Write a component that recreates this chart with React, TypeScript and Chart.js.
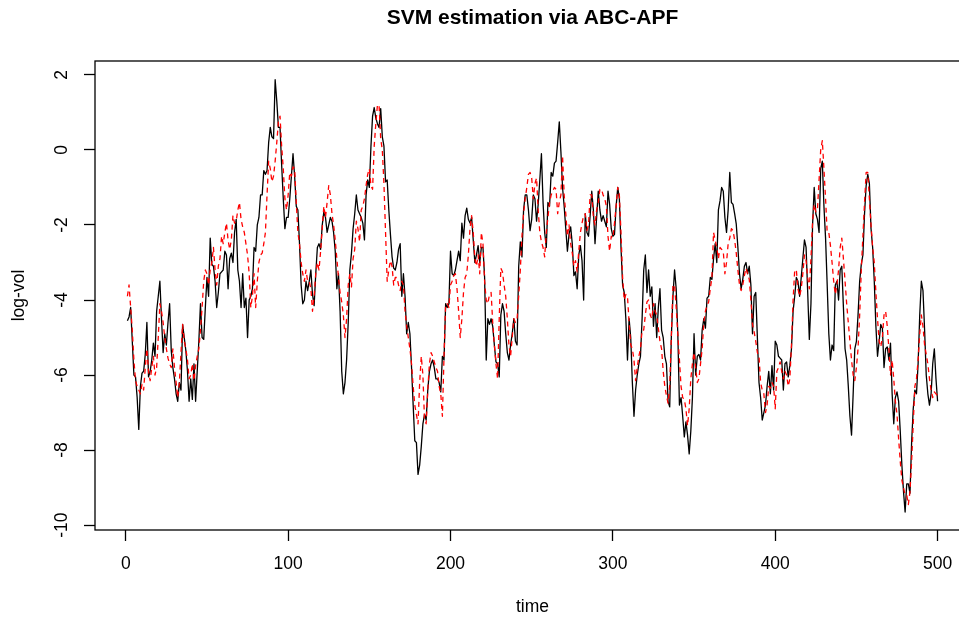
import React, { useEffect, useRef } from "react";
import { Chart, registerables } from "chart.js";

Chart.register(...registerables);

const chartTitle = "SVM estimation via ABC-APF";
const xTitle = "time";
const yTitle = "log-vol";
const xTicks = [0, 100, 200, 300, 400, 500];
const yTicks = [-10, -8, -6, -4, -2, 0, 2];

const trueLogVol = [
  -4.55,-4.45,-4.2,-5.1,-6.0,-6.05,-6.6,-7.45,-6.3,-5.95,
  -5.9,-5.45,-4.6,-6.05,-5.9,-5.6,-5.15,-5.5,-4.3,-3.9,
  -3.5,-4.5,-5.4,-4.9,-5.2,-4.6,-4.1,-5.35,-5.8,-6.1,
  -6.5,-6.7,-6.2,-6.4,-4.65,-5.0,-5.35,-5.9,-6.7,-6.1,
  -6.65,-5.7,-6.7,-5.9,-5.1,-4.1,-5.0,-5.05,-4.2,-3.4,
  -3.9,-2.35,-3.05,-3.1,-3.5,-4.2,-3.8,-3.3,-3.25,-3.2,
  -2.7,-2.8,-3.7,-2.9,-2.75,-3.0,-2.2,-1.85,-3.2,-3.5,
  -4.2,-3.3,-4.2,-3.95,-5.0,-4.0,-3.9,-3.7,-2.6,-2.7,
  -2.0,-1.8,-1.2,-1.2,-0.55,-0.65,-0.55,0.2,0.6,0.35,
  0.3,1.87,1.3,0.6,0.6,-0.4,-1.3,-2.1,-1.8,-1.8,
  -1.3,-0.7,-0.1,-0.7,-1.5,-1.6,-2.5,-3.6,-4.1,-4.0,
  -3.5,-3.75,-3.5,-3.2,-3.85,-4.15,-3.3,-2.6,-2.5,-2.65,
  -2.0,-1.65,-1.8,-2.2,-2.0,-1.8,-1.9,-2.2,-2.7,-3.7,
  -3.3,-4.3,-5.9,-6.5,-6.2,-5.6,-4.6,-3.2,-2.75,-2.1,
  -1.7,-1.2,-1.6,-1.7,-1.8,-1.95,-2.4,-1.2,-0.8,-1.0,
  0.1,0.9,1.13,0.85,0.7,0.6,1.1,0.35,0.1,-0.85,
  -0.8,-1.6,-2.25,-2.85,-3.15,-3.2,-3.0,-2.65,-2.5,-3.9,
  -3.3,-3.9,-4.9,-4.6,-4.9,-5.8,-6.8,-7.75,-7.8,-8.65,
  -8.4,-7.9,-7.3,-7.05,-7.2,-6.4,-5.9,-5.7,-5.6,-5.8,
  -6.1,-6.1,-6.2,-6.45,-5.5,-5.6,-4.1,-4.2,-4.1,-2.7,
  -3.3,-3.35,-3.2,-2.95,-2.7,-2.95,-1.95,-2.35,-1.75,-1.55,
  -1.85,-1.95,-1.8,-2.4,-3.0,-2.8,-2.55,-3.0,-2.6,-2.6,
  -3.4,-5.6,-4.5,-4.65,-4.5,-4.7,-5.2,-5.65,-5.7,-6.05,
  -4.4,-4.1,-4.3,-4.9,-5.4,-5.6,-5.2,-4.9,-4.5,-5.1,
  -5.2,-3.1,-2.45,-2.85,-1.6,-1.2,-1.2,-1.6,-2.15,-1.85,
  -1.2,-1.3,-1.9,-1.45,-0.8,-0.1,-1.4,-2.2,-2.6,-1.4,
  -1.5,-0.6,-0.7,-0.35,-0.3,0.2,0.75,-0.05,-1.0,-1.5,
  -2.1,-2.7,-2.25,-2.05,-2.5,-3.35,-3.25,-3.7,-2.8,-2.55,
  -2.95,-4.0,-1.7,-2.2,-2.3,-1.75,-1.1,-1.6,-2.5,-1.8,
  -1.1,-1.6,-1.9,-1.75,-1.9,-2.05,-1.1,-1.45,-2.1,-2.3,
  -2.25,-1.5,-1.0,-1.3,-2.6,-3.6,-3.8,-4.5,-5.6,-4.5,
  -5.0,-6.2,-7.1,-6.4,-6.0,-5.7,-5.5,-4.5,-3.2,-2.8,
  -3.8,-3.2,-3.9,-3.65,-4.7,-4.1,-5.0,-4.2,-3.7,-4.8,
  -5.0,-5.5,-5.7,-6.7,-6.85,-5.0,-3.9,-3.2,-3.7,-4.9,
  -6.8,-6.6,-7.1,-7.65,-7.25,-7.6,-8.1,-7.5,-6.6,-4.9,
  -6.0,-5.5,-5.45,-5.6,-4.8,-4.5,-4.75,-3.95,-3.9,-3.4,
  -3.45,-2.9,-2.5,-3.0,-1.6,-1.36,-1.0,-1.1,-1.8,-2.2,
  -1.6,-0.6,-1.4,-1.45,-1.7,-1.98,-2.6,-3.3,-3.7,-3.45,
  -3.1,-3.0,-3.3,-3.1,-3.6,-4.9,-3.9,-3.8,-5.0,-6.2,
  -6.6,-7.2,-7.0,-6.8,-6.3,-5.9,-6.5,-5.75,-6.4,-5.1,
  -5.2,-5.5,-5.55,-5.6,-6.4,-5.7,-5.65,-6.05,-5.75,-5.3,
  -4.3,-3.9,-3.4,-3.5,-3.9,-3.4,-2.9,-2.4,-2.6,-3.8,
  -5.05,-4.1,-2.0,-1.0,-1.7,-1.85,-2.2,-0.5,-0.3,-1.5,
  -2.35,-3.6,-4.9,-5.6,-5.2,-5.35,-3.6,-3.5,-4.0,-3.2,
  -3.1,-4.2,-5.3,-5.6,-6.3,-7.1,-7.6,-6.5,-5.3,-5.1,
  -4.4,-3.5,-3.05,-2.8,-1.7,-0.95,-0.65,-0.9,-2.1,-2.6,
  -3.5,-4.7,-5.5,-5.1,-4.65,-4.75,-5.8,-5.3,-5.25,-5.6,
  -5.15,-6.5,-7.3,-6.6,-6.45,-6.7,-7.5,-8.4,-9.1,-9.65,
  -8.9,-8.9,-9.15,-7.8,-6.9,-6.4,-6.5,-5.7,-4.4,-3.5,
  -3.75,-4.8,-6.0,-6.5,-6.8,-6.5,-5.7,-5.3,-6.1,-6.7,
];

const estLogVol = [
  -3.9,-3.6,-4.2,-4.8,-5.6,-6.15,-6.3,-6.4,-6.5,-6.25,
  -6.4,-5.8,-5.3,-5.9,-6.15,-5.8,-5.5,-6.0,-5.8,-5.0,
  -4.1,-4.3,-4.6,-5.0,-5.3,-5.55,-5.7,-5.8,-5.3,-5.8,
  -6.2,-6.6,-6.2,-5.4,-4.65,-5.1,-5.3,-5.6,-6.1,-6.0,
  -5.7,-6.15,-5.75,-5.5,-5.3,-4.8,-4.2,-3.5,-3.2,-3.3,
  -3.6,-3.2,-3.0,-2.6,-3.2,-3.6,-3.1,-2.9,-2.3,-2.5,
  -2.2,-1.95,-2.4,-2.65,-2.4,-1.75,-1.95,-1.9,-1.6,-1.4,
  -1.85,-2.05,-2.2,-2.5,-2.8,-3.3,-4.2,-3.9,-3.3,-4.2,
  -3.5,-3.0,-2.8,-2.75,-2.5,-2.2,-1.2,-0.3,-0.5,-0.85,
  -0.7,-0.3,0.2,0.75,0.9,0.1,-0.5,-1.3,-1.6,-1.2,
  -0.6,-0.7,-0.45,-0.5,-1.4,-2.2,-2.5,-3.0,-3.3,-3.5,
  -3.2,-3.5,-3.5,-3.7,-4.3,-3.9,-3.3,-3.0,-3.2,-2.7,
  -2.1,-1.5,-1.8,-1.4,-0.95,-1.2,-1.7,-2.0,-2.4,-2.9,
  -3.4,-3.8,-4.05,-4.4,-5.0,-4.5,-3.6,-3.3,-3.65,-2.9,
  -2.65,-1.9,-2.1,-2.45,-1.6,-1.5,-1.3,-0.95,-0.65,-0.5,
  -0.95,-1.05,0.1,0.7,1.2,1.2,0.3,0.0,-0.9,-2.2,
  -3.5,-3.2,-2.95,-3.1,-3.6,-3.4,-3.4,-3.6,-3.75,-3.5,
  -3.6,-4.3,-4.7,-5.0,-5.3,-5.7,-6.3,-6.8,-7.05,-7.3,
  -6.2,-5.5,-6.0,-7.2,-7.3,-6.4,-5.7,-5.4,-5.5,-5.65,
  -5.8,-5.9,-6.3,-6.5,-7.1,-5.5,-4.1,-4.1,-4.2,-3.6,
  -3.5,-3.35,-3.3,-3.7,-4.3,-5.0,-4.5,-3.8,-3.4,-3.3,
  -2.8,-2.1,-1.75,-2.2,-2.9,-3.1,-2.8,-3.3,-2.2,-2.5,
  -3.5,-4.0,-4.1,-3.85,-3.8,-4.6,-5.2,-5.7,-6.1,-4.5,
  -3.15,-3.25,-3.6,-3.9,-4.5,-5.2,-5.5,-5.0,-4.5,-4.6,
  -4.5,-3.9,-3.2,-2.3,-1.7,-1.3,-1.0,-0.65,-0.6,-0.75,
  -1.3,-0.9,-0.75,-1.6,-2.2,-2.45,-2.6,-2.85,-2.2,-1.8,
  -1.4,-1.2,-1.1,-1.0,-1.05,-1.7,-1.4,-1.2,-0.15,-1.2,
  -1.7,-2.3,-2.0,-2.5,-2.75,-3.1,-2.95,-3.25,-2.7,-2.2,
  -1.95,-1.75,-1.7,-2.15,-2.0,-1.2,-1.2,-1.8,-2.0,-1.6,
  -1.4,-1.05,-1.05,-1.2,-1.3,-1.5,-2.3,-2.7,-2.3,-2.35,
  -1.95,-1.5,-1.0,-1.2,-2.2,-3.4,-4.0,-3.85,-3.9,-4.6,
  -5.2,-5.3,-5.6,-6.15,-5.8,-5.5,-5.3,-4.8,-4.8,-4.4,
  -4.05,-4.0,-4.4,-4.5,-4.1,-4.3,-4.4,-4.75,-5.1,-5.3,
  -5.9,-6.3,-6.55,-6.75,-6.3,-5.0,-3.6,-3.6,-4.2,-4.9,
  -5.6,-6.3,-6.6,-6.65,-6.9,-7.35,-6.9,-6.1,-5.7,-5.4,
  -5.8,-6.2,-6.1,-5.7,-5.3,-4.6,-4.3,-4.15,-4.05,-3.7,
  -3.4,-2.2,-2.4,-2.6,-2.9,-2.6,-2.65,-2.7,-3.3,-3.0,
  -2.5,-2.35,-2.1,-2.15,-2.4,-2.75,-3.2,-3.6,-3.75,-3.6,
  -3.35,-3.15,-3.3,-3.45,-4.0,-4.65,-4.85,-5.1,-5.4,-5.5,
  -6.2,-6.4,-6.5,-7.0,-6.8,-6.3,-6.35,-6.2,-6.3,-6.9,
  -5.9,-5.8,-5.65,-5.9,-6.1,-5.9,-6.0,-6.3,-6.1,-5.2,
  -4.0,-3.2,-3.2,-3.7,-3.9,-3.7,-3.3,-2.8,-2.95,-3.4,
  -3.7,-2.9,-1.9,-1.45,-1.65,-1.6,-0.8,0.0,0.25,-0.5,
  -1.3,-2.2,-2.2,-2.55,-3.0,-3.5,-3.85,-3.6,-3.2,-2.6,
  -2.35,-2.9,-3.5,-4.1,-4.6,-5.1,-5.6,-6.0,-6.15,-5.8,
  -5.3,-4.4,-3.2,-2.3,-1.4,-0.6,-0.6,-1.3,-2.0,-2.6,
  -3.0,-3.8,-4.5,-5.1,-5.25,-5.0,-4.4,-4.3,-4.7,-5.3,
  -6.0,-5.6,-6.1,-6.7,-7.05,-7.7,-8.3,-8.8,-9.0,-9.2,
  -9.2,-9.45,-9.1,-8.3,-7.3,-6.3,-6.1,-5.6,-4.9,-4.4,
  -4.7,-5.2,-5.45,-5.7,-6.1,-6.4,-6.6,-6.45,-6.5,-6.55,
];

const timeIndex = trueLogVol.map((_, i) => i + 1);

const FONT = "'Liberation Sans', Arial, Helvetica, sans-serif";
const CANVAS_W = 970;
const CANVAS_H = 618;

const boxAndTitle = {
  id: "boxAndTitle",
  afterDatasetsDraw(chart: any) {
    const { ctx, chartArea } = chart;
    ctx.save();
    ctx.strokeStyle = "#000";
    ctx.lineWidth = 1.3;
    ctx.strokeRect(chartArea.left, chartArea.top, chartArea.right - chartArea.left, chartArea.bottom - chartArea.top);
    ctx.restore();
  },
  afterDraw(chart: any) {
    const { ctx, chartArea } = chart;
    ctx.save();
    ctx.fillStyle = "#000";
    ctx.font = `bold 21px ${FONT}`;
    ctx.textAlign = "center";
    ctx.textBaseline = "middle";
    ctx.fillText(chartTitle, (chartArea.left + chartArea.right) / 2, 18);
    ctx.restore();
  },
};

export default function App() {
  const ref = useRef<HTMLCanvasElement | null>(null);

  useEffect(() => {
    if (!ref.current) return;
    const chart = new Chart(ref.current, {
      type: "line",
      data: {
        datasets: [
          {
            label: "estimated",
            data: timeIndex.map((t, i) => ({ x: t, y: estLogVol[i] })),
            borderColor: "#ff0000",
            borderWidth: 1.3,
            borderDash: [5, 4],
            pointRadius: 0,
            tension: 0,
            fill: false,
            order: 0,
          },
          {
            label: "true",
            data: timeIndex.map((t, i) => ({ x: t, y: trueLogVol[i] })),
            borderColor: "#000000",
            borderWidth: 1.3,
            pointRadius: 0,
            tension: 0,
            fill: false,
            order: 1,
          },
        ],
      },
      options: {
        responsive: false,
        animation: false,
        devicePixelRatio: 1,
        layout: { padding: { top: 61, left: 0, right: 0, bottom: 0 } },
        plugins: {
          legend: { display: false },
          tooltip: { enabled: false },
          title: { display: false },
        },
        elements: { line: { borderJoinStyle: "round", borderCapStyle: "butt" } },
        scales: {
          x: {
            type: "linear",
            min: -18.96,
            max: 519.96,
            afterFit: (s: any) => { s.height = 88; },
            afterBuildTicks: (s: any) => { s.ticks = xTicks.map((v) => ({ value: v })); },
            border: { display: false },
            grid: {
              drawOnChartArea: false,
              drawTicks: true,
              tickLength: 11,
              tickColor: "#000",
              tickWidth: 1.3,
            },
            ticks: {
              color: "#000",
              font: { family: FONT, size: 17.5 },
              padding: 13,
              maxRotation: 0,
              minRotation: 0,
              includeBounds: false,
              callback: (v: any) => String(v),
            },
            title: {
              display: true,
              text: xTitle,
              color: "#000",
              font: { family: FONT, size: 17.5 },
              padding: { top: 0, bottom: 0.5 },
            },
          },
          y: {
            type: "linear",
            min: -10.13,
            max: 2.37,
            afterFit: (s: any) => { s.width = 95; },
            afterBuildTicks: (s: any) => { s.ticks = yTicks.map((v) => ({ value: v })); },
            border: { display: false },
            grid: {
              drawOnChartArea: false,
              drawTicks: true,
              tickLength: 11,
              tickColor: "#000",
              tickWidth: 1.3,
            },
            ticks: {
              color: "#000",
              font: { family: FONT, size: 17.5 },
              padding: 9,
              minRotation: 90,
              maxRotation: 90,
              crossAlign: "center",
              includeBounds: false,
              callback: (v: any) => String(v),
            },
            title: {
              display: true,
              text: yTitle,
              color: "#000",
              font: { family: FONT, size: 17.5 },
              padding: { top: 8.5, bottom: 0 },
            },
          },
        },
      },
      plugins: [boxAndTitle],
    } as any);
    return () => chart.destroy();
  }, []);

  return (
    <div
      style={{
        position: "fixed",
        left: 0,
        top: 0,
        width: 959,
        height: 618,
        overflow: "hidden",
        background: "#ffffff",
      }}
    >
      <canvas ref={ref} width={CANVAS_W} height={CANVAS_H} style={{ display: "block", width: CANVAS_W, height: CANVAS_H }} />
    </div>
  );
}
